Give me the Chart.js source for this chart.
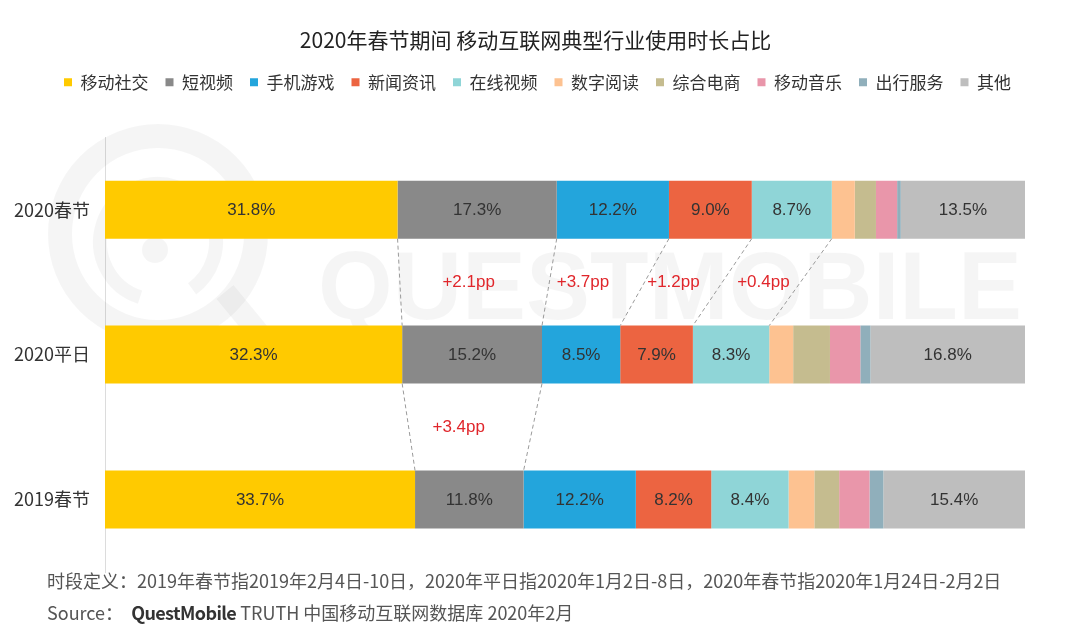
<!DOCTYPE html>
<html><head><meta charset="utf-8">
<script src="https://cdn.jsdelivr.net/npm/chart.js@4"></script>
<style>
html,body{margin:0;padding:0;background:#fff;}
#wrap{position:relative;width:1077px;height:639px;overflow:hidden;}
#c{position:absolute;left:0;top:0;}
.foot{position:absolute;left:47px;font-family:"Noto Sans CJK SC",sans-serif;color:#555;font-size:18px;white-space:nowrap;line-height:22px;}
.foot b{font-weight:bold;color:#333;letter-spacing:-0.6px;}
</style></head><body>
<div id="wrap">
<canvas id="c" width="1077" height="639"></canvas>
<div class="foot" style="top:569px">时段定义：2019年春节指2019年2月4日-10日，2020年平日指2020年1月2日-8日，2020年春节指2020年1月24日-2月2日</div>
<div class="foot" style="top:601px">Source：&nbsp;&nbsp;<b>QuestMobile</b> TRUTH 中国移动互联网数据库 2020年2月</div>
</div>
<script>
// ---- data ----
const categories = ['2020春节', '2020平日', '2019春节'];
const seriesNames = ['移动社交', '短视频', '手机游戏', '新闻资讯', '在线视频', '数字阅读', '综合电商', '移动音乐', '出行服务', '其他'];
const social      = [31.8, 32.3, 33.7];
const shortVideo  = [17.3, 15.2, 11.8];
const mobileGame  = [12.2, 8.5, 12.2];
const news        = [9.0, 7.9, 8.2];
const onlineVideo = [8.7, 8.3, 8.4];
const reading     = [2.5, 2.6, 2.8];
const ecommerce   = [2.3, 4.0, 2.7];
const music       = [2.3, 3.3, 3.3];
const travel      = [0.4, 1.1, 1.5];
const others      = [13.5, 16.8, 15.4];
// change annotations (series index, pp change) between category pairs
const changeTopSeries = [1, 2, 3, 4];
const changeTopValues = [2.1, 3.7, 1.2, 0.4];
const changeBottomSeries = [1];
const changeBottomValues = [3.4];
const labeledSeries = [0, 1, 2, 3, 4, 9];

const seriesValues = [social, shortVideo, mobileGame, news, onlineVideo, reading, ecommerce, music, travel, others];
const colors = ['#FFCA00', '#898989', '#23A5DC', '#EC6441', '#8FD5D7', '#FDC291', '#C5BC8F', '#E996AA', '#90AFBB', '#BEBEBE'];

Chart.defaults.font.family = "'Noto Sans CJK SC', sans-serif";

const LEGEND_H = 80.5;
const TITLE_SHIFT = 23;
const LEGEND_SHIFT = 25;
function shiftDraw(box, dx) {
  const orig = box.draw;
  box.draw = function () {
    const ctx = this.ctx;
    ctx.save(); ctx.translate(dx, 0);
    orig.apply(this, arguments);
    ctx.restore();
  };
}
const headerFit = {
  id: 'headerFit',
  beforeLayout(chart) {
    const lg = chart.legend;
    if (lg && !lg._patched) {
      const orig = lg.fit;
      lg.fit = function () { orig.call(this); this.height = LEGEND_H; };
      shiftDraw(lg, LEGEND_SHIFT);
      lg._patched = true;
    }
    const tb = chart.titleBlock;
    if (tb && !tb._patched) {
      shiftDraw(tb, TITLE_SHIFT);
      tb._patched = true;
    }
  }
};

const overlay = {
  id: 'overlay',
  beforeDatasetsDraw(chart) {
    const ctx = chart.ctx;
    ctx.save();
    const wm = 'rgba(0,0,0,0.04)';
    ctx.strokeStyle = wm; ctx.fillStyle = wm;
    ctx.lineWidth = 24;
    ctx.beginPath(); ctx.arc(158, 234, 98, 0, Math.PI * 2); ctx.stroke();
    ctx.lineWidth = 14;
    ctx.beginPath(); ctx.arc(158, 242, 58, Math.PI * 0.6, Math.PI * 2.3); ctx.stroke();
    ctx.beginPath(); ctx.arc(155, 250, 13, 0, Math.PI * 2); ctx.fill();
    ctx.lineWidth = 22;
    ctx.beginPath(); ctx.moveTo(225, 292); ctx.lineTo(262, 337); ctx.stroke();
    ctx.font = 'bold 96px "Liberation Sans", Arial, sans-serif';
    ctx.textBaseline = 'alphabetic'; ctx.textAlign = 'left';
    ctx.fillText('QUESTMOBILE', 318, 319);
    ctx.restore();
  },
  afterDatasetsDraw(chart) {
    const ctx = chart.ctx;
    const el = (s, i) => chart.getDatasetMeta(s).data[i].getProps(['x', 'y', 'base', 'height'], true);
    ctx.save();
    ctx.font = '17px "Liberation Sans", Arial, sans-serif';
    ctx.fillStyle = '#333';
    ctx.textAlign = 'center'; ctx.textBaseline = 'middle';
    labeledSeries.forEach(s => {
      chart.data.datasets[s].data.forEach((v, i) => {
        const e = el(s, i);
        ctx.fillText(v.toFixed(1) + '%', (e.x + e.base) / 2, e.y + 1);
      });
    });
    const drawGap = (a, b, series, values, shifts) => {
      const maxS = Math.max(...series);
      const lines = [];
      ctx.save();
      ctx.strokeStyle = '#9a9a9a'; ctx.lineWidth = 1; ctx.setLineDash([4, 3]);
      for (let s = 0; s <= maxS; s++) {
        const ea = el(s, a), eb = el(s, b);
        const L = { x1: ea.x, y1: ea.y + ea.height / 2, x2: eb.x, y2: eb.y - eb.height / 2 };
        lines[s] = L;
        ctx.beginPath(); ctx.moveTo(L.x1, L.y1); ctx.lineTo(L.x2, L.y2); ctx.stroke();
      }
      ctx.restore();
      ctx.fillStyle = '#E0262B';
      series.forEach((s, k) => {
        const L = lines[s - 1], R = lines[s];
        const y = (L.y1 + L.y2) / 2;
        const x = ((L.x1 + L.x2) / 2 + (R.x1 + R.x2) / 2) / 2 + shifts[k];
        ctx.fillText('+' + values[k].toFixed(1) + 'pp', x, y);
      });
    };
    drawGap(0, 1, changeTopSeries, changeTopValues, [-6, -14, -10, 2]);
    drawGap(1, 2, changeBottomSeries, changeBottomValues, [-12]);
    ctx.restore();
  }
};

new Chart(document.getElementById('c'), {
  type: 'bar',
  data: {
    labels: categories,
    datasets: seriesNames.map((n, i) => ({
      label: n,
      data: seriesValues[i],
      backgroundColor: colors[i],
      borderWidth: 0,
      barPercentage: 0.4,
      categoryPercentage: 1
    }))
  },
  options: {
    indexAxis: 'y',
    responsive: false,
    animation: false,
    layout: { padding: { left: 0, right: 52, top: 0, bottom: 67 } },
    scales: {
      x: { stacked: true, min: 0, max: 100, display: false },
      y: {
        stacked: true,
        grid: { display: false },
        border: { display: true, color: '#dcdcdc', width: 1 },
        ticks: { color: '#333', padding: 7, font: { size: 18 } },
        afterFit(scale) { scale.width = 105; }
      }
    },
    plugins: {
      title: {
        display: true,
        text: '2020年春节期间 移动互联网典型行业使用时长占比',
        color: '#222',
        font: { size: 21, weight: 'normal' },
        padding: { top: 27, bottom: 4.5 }
      },
      legend: {
        display: true,
        position: 'top',
        labels: {
          boxWidth: 8, boxHeight: 8, padding: 17, color: '#333',
          font: { size: 17 }
        }
      },
      tooltip: { enabled: false }
    }
  },
  plugins: [headerFit, overlay]
});
</script>
</body></html>
